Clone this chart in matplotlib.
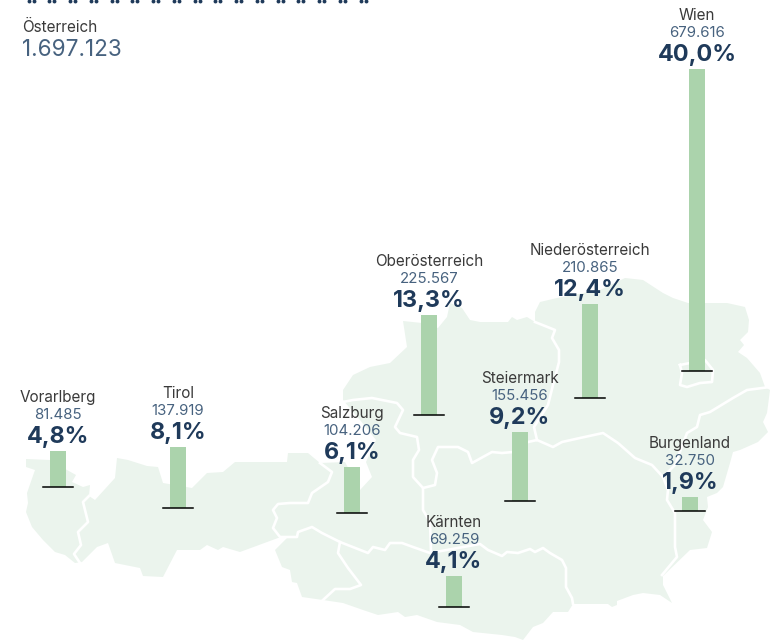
import matplotlib
matplotlib.use('Agg')
import matplotlib.pyplot as plt
from matplotlib.patches import Polygon

regions  = ['Vorarlberg', 'Tirol', 'Salzburg', 'Oberösterreich', 'Niederösterreich',
            'Steiermark', 'Burgenland', 'Kärnten', 'Wien']
counts   = ['81.485', '137.919', '104.206', '225.567', '210.865',
            '155.456', '32.750', '69.259', '679.616']
percents = [4.8, 8.1, 6.1, 13.3, 12.4, 9.2, 1.9, 4.1, 40.0]

# where each bar stands on the map, in pixels
bar_x    = [58, 178, 352, 429, 590, 520, 690, 454, 697]
bar_base = [487, 508, 513, 415, 398, 501, 511, 607, 371]
px_per_pct = 7.55

total_label = 'Österreich'
total_value = '1.697.123'

# map shape, traced in pixels
outline = [(26,459),(50,460),(67,470),(76,475),(72,482),(83,487),(90,485),(89,496),(95,500),(115,478),
           (117,458),(128,460),(147,466),(158,467),(163,483),(192,488),(207,473),(223,472),(235,462),
           (287,462),(288,453),(308,453),(320,463),(345,462),(360,490),(372,477),(366,462),(376,440),
           (360,420),(343,400),(343,390),(353,375),(370,367),(390,363),(407,347),(403,321),(422,323),
           (438,328),(447,317),(450,303),(462,308),(470,320),(480,322),(508,322),(512,317),(517,320),
           (527,317),(535,322),(535,312),(540,302),(557,298),(600,290),(625,278),(643,280),(663,293),
           (673,298),(688,303),(727,303),(745,307),(749,320),(748,332),(740,340),(744,345),(738,352),
           (747,358),(760,373),(765,387),(770,390),(767,413),(763,422),(768,432),(758,442),(740,450),
           (733,452),(730,463),(723,487),(717,493),(707,497),(708,507),(703,520),
           (712,532),(707,548),(690,550),(663,576),(663,585),(672,603),(660,595),(643,593),(633,595),
           (617,601),(617,605),(612,607),(608,604),(573,604),(568,612),(553,612),(543,623),(533,627),
           (523,640),(515,637),(502,635),(473,632),(460,625),(437,622),(417,615),(405,617),(398,612),
           (378,615),(363,610),(343,603),(323,600),(302,597),(297,583),(292,582),(290,570),(282,567),
           (275,550),(287,538),(278,538),(240,552),(223,547),(218,550),(207,545),(200,550),(177,550),
           (163,577),(143,576),(140,568),(115,563),(108,543),(97,547),(82,562),(75,563),(65,555),
           (55,552),(43,540),(32,527),(26,512),(28,503),(27,493),(35,470),(26,467)]

borders = [
    [(89,496),(83,502),(88,522),(78,532),(81,545),(74,554),(80,563)],
    [(320,463),(332,472),(328,482),(312,493),(308,503),(290,503),(278,504),(273,510),(277,518),(273,528),(280,537),(297,537),
     (298,532),(312,527),(322,533),(340,542),(368,553),(373,547),(385,550),(390,543),(402,543),(413,547),(430,553),
     (480,544),(488,550),(502,556),(507,552),(518,553),(530,549),(535,552),(543,548),(550,553),(562,560),(566,568),
     (566,587),(572,598),(573,604)],
    [(340,542),(338,553),(348,568),(361,585),(350,589),(335,589),(323,600)],
    [(343,402),(353,400),(372,398),(397,403),(403,410),(395,427),(400,433),(417,437),(419,450),(413,460),(413,477),
     (423,488),(423,510),(430,522),(431,552)],
    [(423,488),(435,485),(437,473),(432,460),(438,447),(458,447),(468,452),(472,463),(492,452),(502,453),(513,452),
     (528,442),(537,440),(553,447),(562,442),(580,438),(603,433),(618,443),(635,458),(652,465),(663,477),(668,490),
     (667,500),(675,513),(675,547),(677,557),(662,575)],
    [(535,322),(555,330),(552,338),(559,350),(559,362),(553,385),(548,405),(534,427),(537,440)],
    [(663,477),(675,465),(687,433),(697,427),(700,415),(710,412),(733,398),(747,390),(770,387)],
    [(680,365),(690,363),(705,360),(713,370),(712,382),(700,383),(687,387),(680,385),(682,373),(680,365)],
]

top_marks_x = [31 + 20.75 * i for i in range(17)]

navy  = '#1f3a5a'
blue  = '#47627f'
grey  = '#3a3a3a'
plt.rcParams['font.family'] = ['Inter', 'DejaVu Sans']

fig = plt.figure(figsize=(7.7, 6.41), dpi=100)
ax = fig.add_axes([0, 0, 1, 1])
ax.set_xlim(0, 770)
ax.set_ylim(641, 0)
ax.axis('off')

ax.add_patch(Polygon(outline, closed=True, facecolor='#ebf4ed', edgecolor='none', zorder=1))
for line in borders:
    xs, ys = zip(*line)
    ax.plot(xs, ys, color='white', lw=1.9, solid_joinstyle='round', zorder=2)

for i in range(len(regions)):
    h = percents[i] * px_per_pct
    top = bar_base[i] - h
    ax.bar(bar_x[i], h, width=16, bottom=top, color='#abd3ac', zorder=3)
    ax.plot([bar_x[i] - 15, bar_x[i] + 15], [bar_base[i], bar_base[i]], color='black', lw=1.1, zorder=4)
    pct_txt = f'{percents[i]:.1f}%'.replace('.', ',')
    ax.text(bar_x[i], top - 8, pct_txt, ha='center', va='baseline', fontsize=16.8,
            fontweight='bold', color=navy, zorder=5)
    ax.text(bar_x[i], top - 32, counts[i], ha='center', va='baseline', fontsize=10.8, color=blue, zorder=5)
    ax.text(bar_x[i], top - 49, regions[i], ha='center', va='baseline', fontsize=11, color=grey, zorder=5)

ax.text(22, 32, total_label, ha='left', va='baseline', fontsize=11, color=grey)
ax.text(22, 56, total_value, ha='left', va='baseline', fontsize=16.2, color=blue)

for x in top_marks_x:
    ax.plot([x - 2.5, x + 2.5], [0.5, 0.5], ls='none', marker='o', ms=2.8, mew=0, color=navy)

fig.savefig('out.png', dpi=100)
